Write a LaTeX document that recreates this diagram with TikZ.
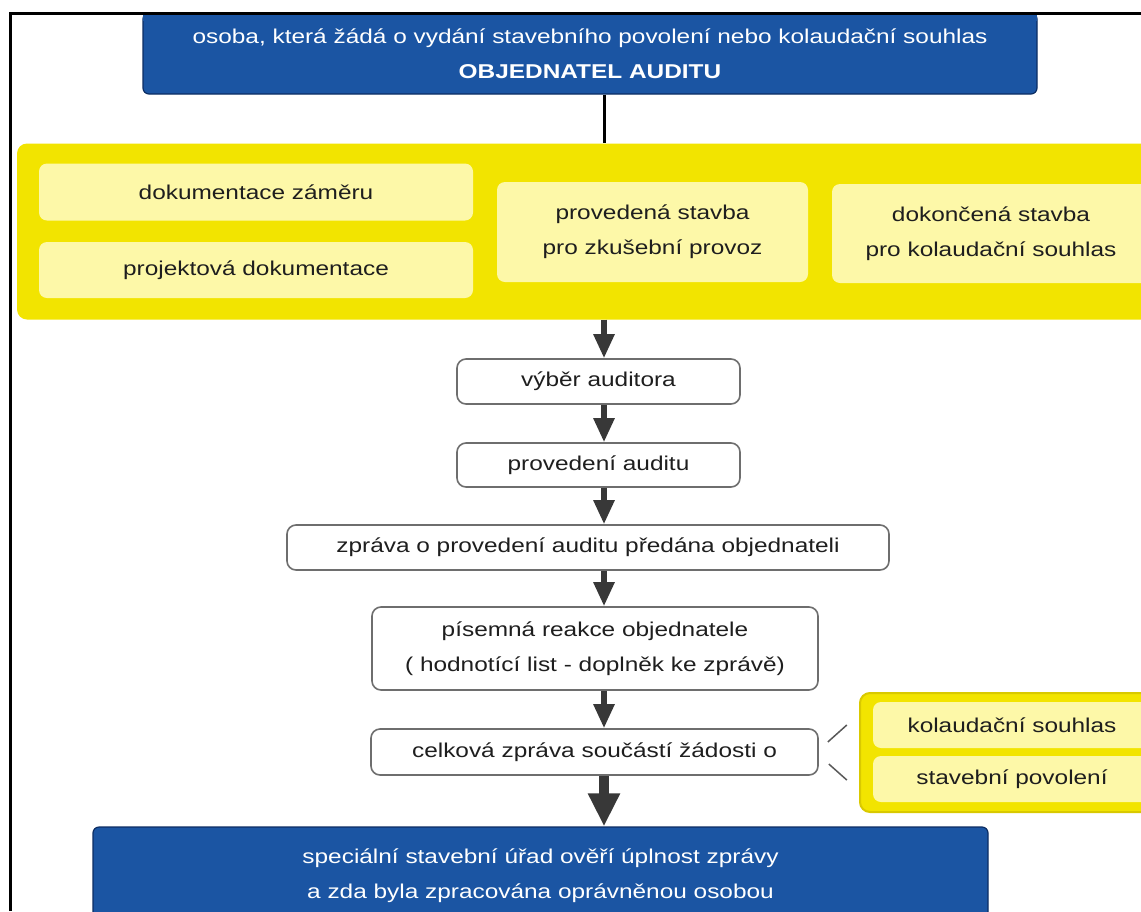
\documentclass[tikz,border=0pt]{standalone}
\usepackage{fontspec}
\setmainfont{Liberation Sans}[FakeStretch=1.22]
\usepackage{tikz}
\usetikzlibrary{arrows.meta,positioning,calc}

\definecolor{audblue}{HTML}{1B55A3}
\definecolor{audnavy}{HTML}{0C2D63}
\definecolor{audyellow}{HTML}{F2E400}
\definecolor{audpale}{HTML}{FDF8A8}
\definecolor{audrim}{HTML}{D9C900}
\definecolor{audgrey}{HTML}{6E6E6E}
\definecolor{audarrow}{HTML}{383838}
\definecolor{audtext}{HTML}{1E1E1E}

\begin{document}
\begin{tikzpicture}[x=1pt,y=-1pt,font=\fontsize{20pt}{35pt}\selectfont,
    bluebox/.style={fill=audblue,draw=audnavy,line width=1.2pt,rounded corners=6pt,text=white,align=center,inner sep=0pt},
    yelpanel/.style={fill=audyellow,rounded corners=10pt,inner sep=0pt},
    yelbox/.style={fill=audpale,rounded corners=8pt,text=audtext,align=center,inner sep=0pt},
    stepbox/.style={draw=audgrey,line width=1.6pt,fill=white,rounded corners=9pt,text=audtext,align=center,inner sep=0pt,minimum height=45pt},
    flow/.style={draw=audarrow,line width=5.5pt,-{Triangle[length=24pt,width=20pt]}},
    bigflow/.style={draw=audarrow,line width=10pt,-{Triangle[length=33pt,width=30pt]}},
    tick/.style={draw=audgrey!80!black,line width=1.5pt}]
    \useasboundingbox (0,0) rectangle (1141,911);
    \clip (0,0) rectangle (1141,911);
    \coordinate (axis) at (604,0);

    % client of the audit
    \node[bluebox,minimum width=894pt,minimum height=81pt] (top) at (590,53.5)
      {osoba, která žádá o vydání stavebního povolení nebo kolaudační souhlas\\\textbf{OBJEDNATEL AUDITU}};
    \fill[audblue] ([xshift=0.6pt]top.north west) rectangle ([xshift=-0.6pt,yshift=-9pt]top.north east);
    \draw[line width=3pt] (10,911) |- (1141,13);

    % subject of the audit
    \node[yelpanel,minimum width=1153pt,minimum height=176pt] (panel) at (593.5,231.5) {};
    \node[yelbox,minimum width=434pt,minimum height=57pt] (zamer) at (256,192) {dokumentace záměru};
    \node[yelbox,minimum width=434pt,minimum height=56pt] (projekt) at (256,270) {projektová dokumentace};
    \node[yelbox,minimum width=311pt,minimum height=100pt] (zkusebni) at (652.5,232) {provedená stavba\\pro zkušební provoz};
    \node[yelbox,minimum width=318pt,minimum height=99pt] (kolaudace) at (991,233.5) {dokončená stavba\\pro kolaudační souhlas};

    % steps
    \node[stepbox,minimum width=283pt] (vyber) at (598.5,381.5) {výběr auditora};
    \node[stepbox,minimum width=283pt,minimum height=44pt] (proved) at (598.5,465) {provedení auditu};
    \node[stepbox,minimum width=602pt] (zprava) at (588,547.5) {zpráva o provedení auditu předána objednateli};
    \node[stepbox,minimum width=446pt,minimum height=83pt] (reakce) at (595,648.5)
      {písemná reakce objednatele\\( hodnotící list - doplněk ke zprávě)};
    \node[stepbox,minimum width=447pt,minimum height=46pt] (celk) at (594.5,752) {celková zpráva součástí žádosti o};

    % request types
    \node[yelpanel,draw=audrim,line width=2pt,minimum width=305pt,minimum height=119pt] (zadost) at (1012.5,752.5) {};
    \node[yelbox,minimum width=278pt,minimum height=46pt] (souhlas) at (1012,725) {kolaudační souhlas};
    \node[yelbox,minimum width=278pt,minimum height=46pt] (povoleni) at (1012,779) {stavební povolení};

    % authority
    \node[bluebox,minimum width=895pt,minimum height=97pt] (urad) at (540.5,875.5)
      {speciální stavební úřad ověří úplnost zprávy\\a zda byla zpracována oprávněnou osobou};

    % connectors
    \draw[line width=3pt] (top.south -| axis) -- (panel.north -| axis);
    \foreach \a/\b in {panel/vyber,vyber/proved,proved/zprava,zprava/reakce,reakce/celk}
      \draw[flow] (\a.south -| axis) -- (\b.north -| axis);
    \draw[bigflow] (celk.south -| axis) -- (urad.north -| axis);
    \draw[tick] ($(celk.east)+(9,-10)$) -- ($(celk.east)+(28,-27)$);
    \draw[tick] ($(celk.east)+(10,12)$) -- ($(celk.east)+(28,28)$);
  \end{tikzpicture}
\end{document}
